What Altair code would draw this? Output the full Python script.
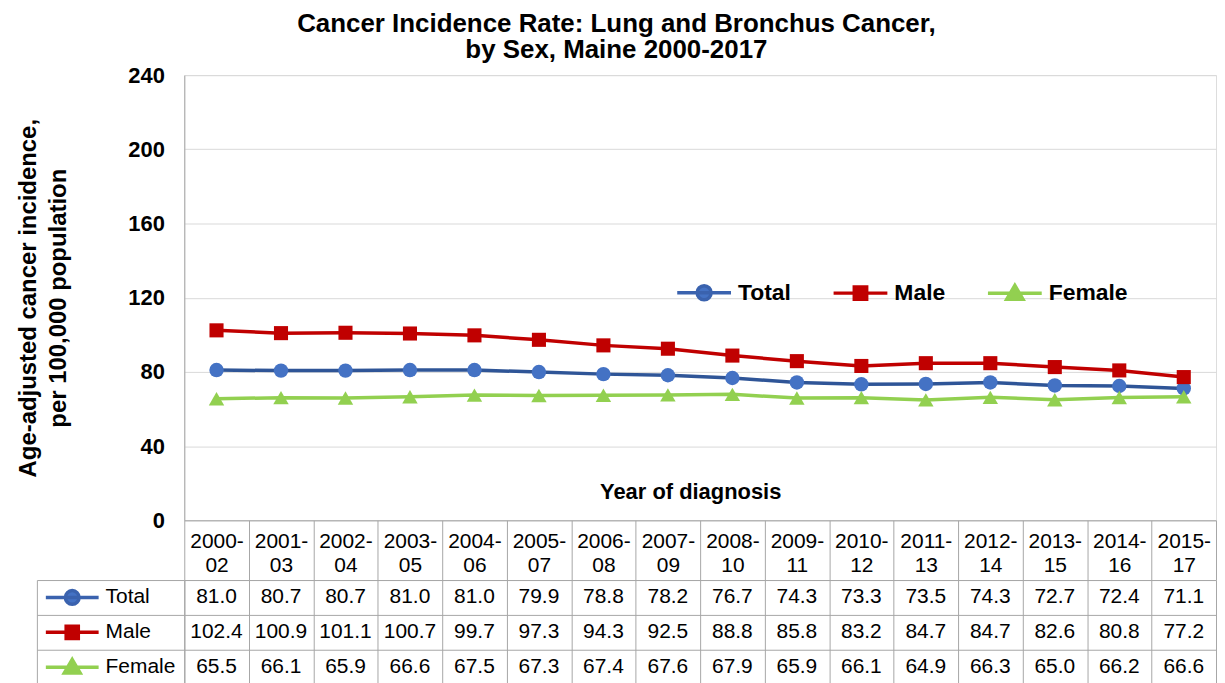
import altair as alt
import pandas as pd

# ---- data -----------------------------------------------------------------
periods = ["2000-02", "2001-03", "2002-04", "2003-05", "2004-06", "2005-07",
           "2006-08", "2007-09", "2008-10", "2009-11", "2010-12", "2011-13",
           "2012-14", "2013-15", "2014-16", "2015-17"]
series_names = ["Total", "Male", "Female"]
total = [81.0, 80.7, 80.7, 81.0, 81.0, 79.9, 78.8, 78.2, 76.7, 74.3, 73.3, 73.5, 74.3, 72.7, 72.4, 71.1]
male = [102.4, 100.9, 101.1, 100.7, 99.7, 97.3, 94.3, 92.5, 88.8, 85.8, 83.2, 84.7, 84.7, 82.6, 80.8, 77.2]
female = [65.5, 66.1, 65.9, 66.6, 67.5, 67.3, 67.4, 67.6, 67.9, 65.9, 66.1, 64.9, 66.3, 65.0, 66.2, 66.6]
y_ticks = [0, 40, 80, 120, 160, 200, 240]

title_lines = ["Cancer Incidence Rate: Lung  and Bronchus Cancer,", "by Sex, Maine 2000-2017"]
y_title = ["Age-adjusted cancer incidence,", "per 100,000 population"]
x_title = "Year of diagnosis"

# ---- styles ---------------------------------------------------------------
FONT = "Liberation Sans"
line_colors = ["#2F5597", "#C00000", "#92D050"]
marker_colors = ["#4472C4", "#C00000", "#92D050"]
stroke_colors = ["#3A62AE", "#C00000", "#92D050"]
marker_shapes = ["circle", "square", "triangle-up"]
marker_sizes = [210, 200, 240]
legend_paths = [
    "M-1,0L1,0M0.26,0A0.26,0.26,0,1,1,-0.26,0A0.26,0.26,0,1,1,0.26,0Z",
    "M-1,0L1,0M-0.23,-0.23L0.23,-0.23L0.23,0.23L-0.23,0.23Z",
    "M-1,0L1,0M0,-0.29L0.3,0.22L-0.3,0.22Z",
]
GRID = "#D9D9D9"
BORDER = "#A6A6A6"

rows = []
for name, vals in zip(series_names, [total, male, female]):
    for p, v in zip(periods, vals):
        rows.append({"period": p, "series": name, "value": v})
df = pd.DataFrame(rows)

W, H = 1036, 447

x_scale = alt.Scale(type="band", domain=periods, paddingInner=0, paddingOuter=0)

x_top = alt.X(
    "period:N", scale=x_scale, bandPosition=0.5,
    axis=alt.Axis(
        title=x_title, titleFont=FONT, titleFontSize=22, titleFontWeight="bold",
        titleColor="black", titleY=-22, titleX=508, titleBaseline="alphabetic",
        titleAlign="center",
        labelExpr="[slice(datum.label, 0, 5), slice(datum.label, 5)]",
        labelFont=FONT, labelFontSize=21, labelColor="black", labelAngle=0,
        labelBaseline="top", labelLineHeight=24, labelPadding=-50,
        labelOverlap=False, labelAlign="center",
        tickBand="extent", ticks=True, tickSize=60, tickColor=BORDER, tickWidth=1,
        domain=True, domainColor=BORDER, domainWidth=1, grid=False,
    ),
)
y_top = alt.Y(
    "value:Q", scale=alt.Scale(domain=[0, 240], nice=False),
    axis=alt.Axis(
        values=y_ticks, title=y_title, titleFont=FONT, titleFontSize=24,
        titleFontWeight="bold", titleColor="black", titleLineHeight=30,
        titlePadding=58,
        labelFont=FONT, labelFontSize=22, labelFontWeight="bold",
        labelColor="black", labelPadding=20,
        ticks=False, domain=True, domainColor=BORDER, domainWidth=1,
        grid=True, gridColor=GRID, gridWidth=1,
    ),
)

lines = alt.Chart(df).mark_line(strokeWidth=3.5).encode(
    x=x_top, y=y_top,
    color=alt.Color("series:N", scale=alt.Scale(domain=series_names, range=line_colors), legend=None),
)

marker_layers = []
for name, shp, col, sz in zip(series_names, marker_shapes, marker_colors, marker_sizes):
    marker_layers.append(
        alt.Chart(df).transform_filter(alt.datum.series == name)
        .mark_point(shape=shp, filled=True, size=sz, color=col, opacity=1)
        .encode(x=x_top, y=y_top)
    )


def legend_encodings(lg):
    return dict(
        fill=alt.Fill("series:N", scale=alt.Scale(domain=series_names, range=marker_colors), legend=lg),
        stroke=alt.Stroke("series:N", scale=alt.Scale(domain=series_names, range=stroke_colors), legend=lg),
        shape=alt.Shape("series:N", scale=alt.Scale(domain=series_names, range=legend_paths), legend=lg),
    )


top_legend = alt.Legend(
    title=None, orient="none", legendX=493, legendY=189, direction="horizontal",
    columns=3, columnPadding=35, symbolSize=2916, symbolStrokeWidth=3.5,
    labelFont=FONT, labelFontSize=23, labelFontWeight="bold", labelColor="black",
    labelOffset=5, padding=0,
)
top_dummy = alt.Chart(df).transform_filter("false").mark_point(
    filled=True, opacity=1, strokeWidth=3.5
).encode(**legend_encodings(top_legend))

top = alt.layer(lines, *marker_layers, top_dummy).properties(width=W, height=H)

# ---- data table -----------------------------------------------------------
y_tab_scale = alt.Scale(type="band", domain=series_names, paddingInner=0, paddingOuter=0)
x_tab = alt.X(
    "period:N", scale=x_scale, bandPosition=0.5,
    axis=alt.Axis(grid=True, tickBand="extent", gridColor=BORDER, gridWidth=1,
                  domain=False, ticks=False, labels=False, title=None),
)
texts = alt.Chart(df).mark_text(font=FONT, fontSize=21, color="black").encode(
    x=x_tab,
    y=alt.Y("series:N", scale=y_tab_scale, bandPosition=0.5,
            axis=alt.Axis(orient="left", grid=True, tickBand="extent", gridColor=BORDER,
                          gridWidth=1, ticks=True, tickSize=148, tickColor=BORDER,
                          tickWidth=1, domain=True, domainColor=BORDER, domainWidth=1,
                          labels=False, title=None)),
    text=alt.Text("value:Q", format=".1f"),
)
bottom_legend = alt.Legend(
    title=None, orient="none", legendX=-141, legendY=0, direction="vertical",
    clipHeight=35, rowPadding=0, symbolSize=2809, symbolStrokeWidth=3.5,
    labelFont=FONT, labelFontSize=21, labelColor="black", labelOffset=5, padding=0,
)
bottom_dummy = alt.Chart(df).transform_filter("false").mark_point(
    filled=True, opacity=1, strokeWidth=3.5
).encode(
    y=alt.Y("series:N", scale=y_tab_scale,
            axis=alt.Axis(orient="left", offset=148, domain=True, domainColor=BORDER,
                          domainWidth=1, ticks=False, labels=False, grid=False, title=None)),
    **legend_encodings(bottom_legend),
)
bottom = alt.layer(texts, bottom_dummy).resolve_axis(y="independent").properties(width=W, height=105)

chart = (
    alt.vconcat(top, bottom, spacing=60, bounds="flush")
    .resolve_scale(fill="independent", stroke="independent", shape="independent")
    .resolve_legend(fill="independent", stroke="independent", shape="independent")
    .properties(
        title=alt.TitleParams(text=title_lines, font=FONT, fontSize=26, fontWeight="bold",
                              color="black", lineHeight=26, anchor="middle", offset=1),
        padding={"top": 1, "left": 7, "right": 0, "bottom": 0},
    )
    .configure_view(stroke=None)
    .configure(font=FONT, background="white")
)

chart.save("out.html", embed_options={"renderer": "svg", "actions": False})
